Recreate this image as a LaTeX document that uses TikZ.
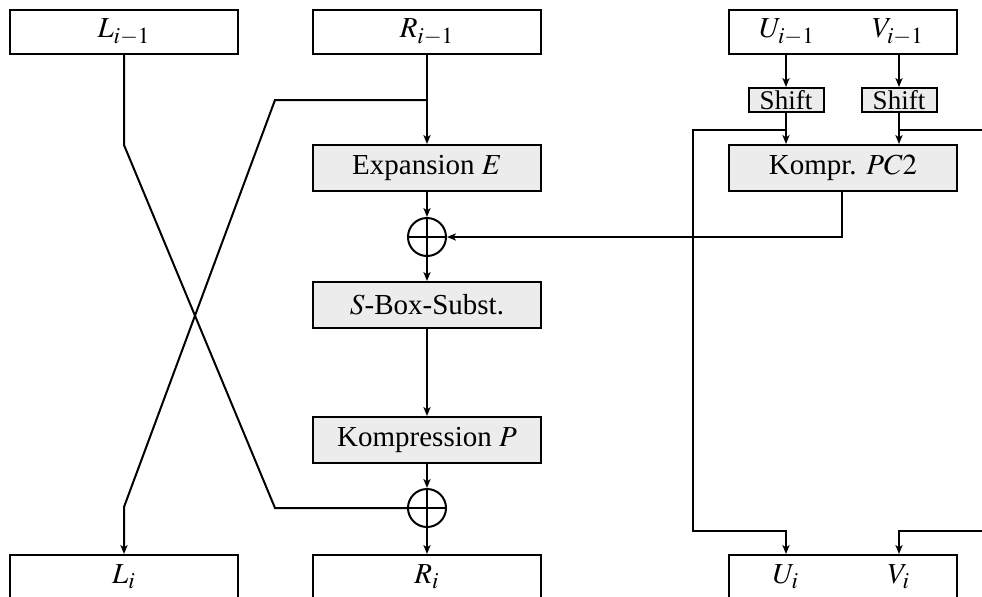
\documentclass[tikz,border=0pt]{standalone}
\usepackage{mathptmx}
\usepackage[no-math]{fontspec}
\setmainfont{Liberation Serif}
\usetikzlibrary{positioning,arrows.meta}
\DeclareMathSizes{14.5}{14.5}{11.5}{9}

\begin{document}
\begin{tikzpicture}[x=0.5pt,y=-0.5pt,line width=1pt,
  >={Stealth[length=4.5pt,width=3.6pt,inset=1.2pt]},
  font=\fontsize{14.5}{16}\selectfont,
  reg/.style={draw,minimum width=114pt,minimum height=22pt,inner sep=0pt},
  op/.style={draw,fill=gray!15,minimum width=114pt,minimum height=23pt,inner sep=0pt},
  shiftbox/.style={draw,fill=gray!15,minimum width=37.5pt,minimum height=12pt,inner sep=0pt,
    font=\fontsize{13.5}{14}\selectfont},
  xor/.style={draw,circle,minimum size=19pt,inner sep=0pt,
    path picture={\draw (path picture bounding box.north) -- (path picture bounding box.south)
      (path picture bounding box.west) -- (path picture bounding box.east);}}]
        \useasboundingbox (0,0) rectangle (982,596);

        % registers, top
        \node [reg] at (124,32) (lold){$L_{i-1}$};
        \node [reg] at (427,32) (rold){$R_{i-1}$};
        \node [reg] at (843,32) (uvold){};
        \node at (787,32) (uold){$U_{i-1}$};
        \node at (898,32) (vold){$V_{i-1}$};

        % round function
        \node [op] at (427,168) (expE){Expansion $E$};
        \node [xor] at (427,237) (x1){};
        \node [op] at (427,305) (sbox){$S$-Box-Subst.};
        \node [op] at (427,440) (komp){Kompression $P$};
        \node [xor] at (427,508) (x2){};

        % key schedule
        \node [shiftbox] at (786,100) (shu){Shift};
        \node [shiftbox] at (899,100) (shv){Shift};
        \node [op] at (843,168) (pc2){Kompr. $PC2$};

        % registers, bottom
        \node [reg] at (124,577) (lnew){$L_i$};
        \node [reg] at (427,577) (rnew){$R_i$};
        \node [reg] at (843,577) (uvnew){};
        \node at (786,577) (unew){$U_i$};
        \node at (899,577) (vnew){$V_i$};

        \coordinate (lbend) at (124,145);
        \coordinate (lcross) at (275,508);
        \coordinate (rsplit) at (427,100);
        \coordinate (rcross) at (275,100);
        \coordinate (rbend) at (124,507);
        \coordinate (kbend) at (842,237);
        \coordinate (ufeed) at (693,130);
        \coordinate (udown) at (693,531);
        \coordinate (vfeed) at (990,130);
        \coordinate (vdown) at (990,531);

        \draw (lold) -- (lbend) -- (lcross) -- (x2.west);
        \draw [->] (rold) -- (expE);
        \draw [->] (rsplit) -- (rcross) -- (rbend) -- (lnew);
        \draw [->] (expE) -- (x1);
        \draw [->] (x1) -- (sbox);
        \draw [->] (sbox) -- (komp);
        \draw [->] (komp) -- (x2);
        \draw [->] (x2) -- (rnew);

        \draw [->] (uvold.south -| shu) -- (shu);
        \draw [->] (uvold.south -| shv) -- (shv);
        \draw [->] (shu) -- (shu |- pc2.north);
        \draw [->] (shv) -- (shv |- pc2.north);
        \draw [->] (pc2.south -| kbend) -- (kbend) -- (x1);
        \draw [->] (ufeed -| shu) -- (ufeed) -- (udown) -- (udown -| shu) -- (uvnew.north -| shu);
        \draw (vfeed -| shv) -- (vfeed);
        \draw [->] (vdown) -- (vdown -| shv) -- (uvnew.north -| shv);
      \end{tikzpicture}
\end{document}
